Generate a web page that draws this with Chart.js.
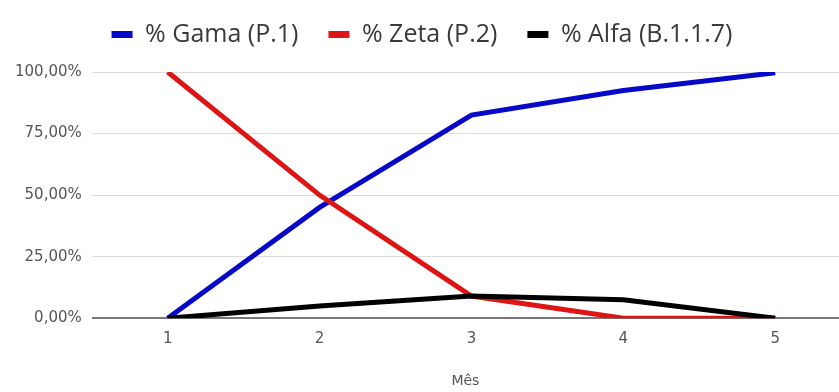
<!DOCTYPE html>
<html>
<head>
<meta charset="utf-8">
<script src="https://cdn.jsdelivr.net/npm/chart.js@4"></script>
<style>
  html, body { margin: 0; padding: 0; background: #fff; }
  #wrap { width: 839px; height: 392px; }
</style>
</head>
<body>
<div id="wrap"><canvas id="chart"></canvas></div>
<script>
/* Data */
const months = [1, 2, 3, 4, 5];
const gama = [0, 45, 82.5, 92.5, 99.7];
const zeta = [100, 50, 9, 0, 0];
const alfa = [0, 5, 9, 7.5, 0];
const seriesLabels = ['% Gama (P.1)', '% Zeta (P.2)', '% Alfa (B.1.1.7)'];
const yTicks = [0, 25, 50, 75, 100];

const toPoints = arr => arr.map((v, i) => ({ x: months[i], y: v }));

const colors = ['#0808c8', '#dd1515', '#000000'];
const tickFont = { family: 'DejaVu Sans', size: 15 };

// Force the legend block to a fixed height so the plot starts where the reference does
const legendHeight = {
    id: 'legendHeight',
    beforeInit(chart) {
        const origFit = chart.legend.fit;
        chart.legend.fit = function fit() {
            origFit.bind(chart.legend)();
            this.height = 80;
        };
    }
};

const chart = new Chart(document.getElementById('chart'), {
    type: 'line',
    data: {
        datasets: [gama, zeta, alfa].map((arr, i) => ({
            label: seriesLabels[i],
            data: toPoints(arr),
            borderColor: colors[i],
            backgroundColor: colors[i],
            borderWidth: 5,
            pointRadius: 0,
            tension: 0,
            order: 3 - i  // black drawn on top, blue at the bottom
        }))
    },
    options: {
        responsive: true,
        maintainAspectRatio: false,
        animation: false,
        layout: { padding: { left: 5, right: 0, top: -8, bottom: 0 } },
        plugins: {
            legend: {
                position: 'top',
                labels: {
                    boxWidth: 21,
                    boxHeight: 7,
                    padding: 30,
                    color: '#3a3a3a',
                    font: { family: 'Open Sans', size: 25 },
                    sort: (a, b) => a.datasetIndex - b.datasetIndex,
                    generateLabels: chart => {
                        const items = Chart.defaults.plugins.legend.labels.generateLabels(chart);
                        items.forEach(it => { it.lineWidth = 0; });
                        return items;
                    }
                }
            },
            tooltip: { enabled: false }
        },
        scales: {
            x: {
                type: 'linear',
                min: 0.5,
                max: 5.42,
                afterBuildTicks: axis => { axis.ticks = months.map(m => ({ value: m })); },
                ticks: {
                    color: '#555',
                    font: tickFont,
                    padding: 12,
                    callback: v => String(v)
                },
                grid: { display: false, drawTicks: false },
                border: { display: false },
                title: {
                    display: true,
                    text: 'Mês',
                    color: '#555',
                    font: { family: 'DejaVu Sans', size: 14 },
                    padding: { top: 13, bottom: 2 }
                }
            },
            y: {
                min: 0,
                max: 100,
                afterBuildTicks: axis => { axis.ticks = yTicks.map(v => ({ value: v })); },
                ticks: {
                    color: '#555',
                    font: tickFont,
                    padding: 10,
                    callback: v => v.toFixed(2).replace('.', ',') + '%'
                },
                grid: {
                    drawTicks: false,
                    color: ctx => ctx.tick && ctx.tick.value === 0 ? '#777' : '#dcdcdc',
                    lineWidth: ctx => ctx.tick && ctx.tick.value === 0 ? 2 : 1
                },
                border: { display: false }
            }
        }
    },
    plugins: [legendHeight]
});
</script>
</body>
</html>
